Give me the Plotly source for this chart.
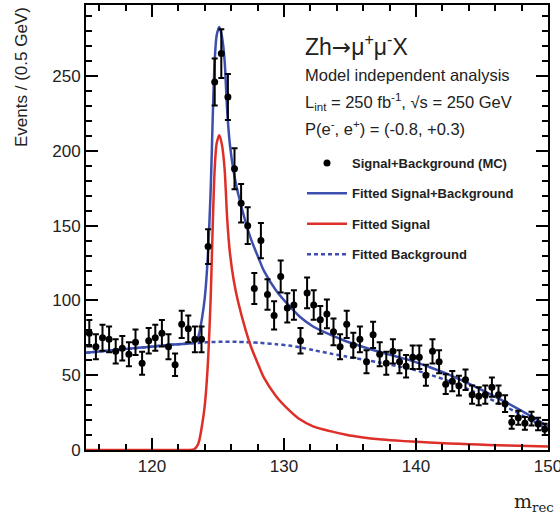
import numpy as np
import plotly.graph_objects as go

# --- data ---
bin_start = 115.25
bin_width = 0.5
counts = [78, 69, 75, 74, 66, 68, 64, 72, 58, 73, 75, 78, 69, 57, 84, 81, 74, 74, 136,
          246, 265, 236, 188, 165, 150,
          108, 140, 104, 90, 116, 95, 97, 73, 105, 97, 87, 91, 79, 69, 84, 70, 74, 59, 77,
          64, 58, 66, 59, 56, 62, 62, 50, 66, 59, 44, 46, 43, 47, 37, 36, 37, 42, 37, 31,
          18.5, 21.6, 17.8, 21, 17.4, 13.8]
bin_centers = bin_start + bin_width * np.arange(len(counts))
count_errors = np.sqrt(np.array(counts, dtype=float))

fit_x = [115, 117, 119, 121, 122, 122.8, 123.2, 123.5, 123.8, 124.0,
         124.2, 124.45, 124.6, 124.75, 124.9, 125.1, 125.3, 125.5, 125.7, 125.9,
         126.2, 126.5, 127.1, 127.5, 128.1, 128.5, 129.4, 130.4, 131.2, 132.2,
         133.5, 134.7, 136, 137.2, 138.5, 139.7, 141, 142.5, 144, 145.5,
         147, 148.5, 150]
signal_fit = [0, 0, 0, 0, 0, 0, 0.5, 4, 17, 30,
              53, 103, 150, 188, 205, 210.5, 204, 188, 154, 132,
              113, 100, 80, 69, 56, 48, 36, 26.5, 20.5, 15.8,
              12.6, 10.2, 8.4, 7.2, 6.3, 5.6, 5, 4.4, 3.9, 3.4,
              3, 2.6, 2.3]
background_fit = [65, 66.7, 68.3, 70, 70.7, 71.2, 71.4, 71.6, 71.8, 71.9,
                  72, 72.1, 72.15, 72.2, 72.25, 72.3, 72.3, 72.35, 72.35, 72.35,
                  72.35, 72.3, 72.1, 72, 71.7, 71.4, 70.7, 69.8, 68.6, 66.8,
                  64.5, 62.5, 60.5, 58.5, 56.2, 54, 50.5, 46, 40.5, 34.5,
                  28, 21, 13.5]
total_fit = np.array(signal_fit) + np.array(background_fit)

BLUE = "#3d4fae"
RED = "#dd2f27"

fig = go.Figure()
fig.add_trace(go.Scatter(x=fit_x, y=background_fit, mode="lines", name="<b>Fitted Background</b>",
                         line=dict(color=BLUE, width=2.5, dash="4px,3px", shape="spline", smoothing=0.8),
                         legendrank=4, legendgroup="d"))
fig.add_trace(go.Scatter(x=fit_x, y=signal_fit, mode="lines", name="<b>Fitted Signal</b>",
                         line=dict(color=RED, width=2.5, shape="spline", smoothing=0.8),
                         legendrank=3, legendgroup="c"))
fig.add_trace(go.Scatter(x=fit_x, y=total_fit, mode="lines", name="<b>Fitted Signal+Background</b>",
                         line=dict(color=BLUE, width=2.5, shape="spline", smoothing=0.8),
                         legendrank=2, legendgroup="b"))
fig.add_trace(go.Scatter(x=bin_centers, y=counts, mode="markers", name="<b>Signal+Background (MC)</b>",
                         marker=dict(color="black", size=7),
                         error_y=dict(type="data", array=count_errors, color="black", thickness=2, width=3),
                         legendrank=1, legendgroup="a"))

axis_font = dict(family="Liberation Sans, Arial, sans-serif", size=17, color="#222")
fig.update_xaxes(range=[115, 150], tickvals=[120, 130, 140, 150], ticks="inside", ticklen=12, tickwidth=2,
                 tickcolor="black", showline=True, linecolor="black", linewidth=2, mirror="allticks",
                 showgrid=False, zeroline=False, tickfont=axis_font, ticklabeloverflow="allow",
                 automargin=False,
                 minor=dict(dtick=2, tick0=0, ticks="inside", ticklen=6, tickwidth=2, tickcolor="black",
                            showgrid=False))
fig.update_yaxes(range=[0, 297.5], tickvals=[0, 50, 100, 150, 200, 250], ticks="inside", ticklen=12,
                 tickwidth=2, tickcolor="black", showline=True, linecolor="black", linewidth=2,
                 mirror="allticks", showgrid=False, zeroline=False, tickfont=axis_font,
                 automargin=False,
                 minor=dict(dtick=10, tick0=0, ticks="inside", ticklen=6, tickwidth=2, tickcolor="black",
                            showgrid=False))

txt = "Liberation Sans, Arial, sans-serif"
annos = [
    dict(text="Zh<span style='font-family:DejaVu Sans'>→</span>μ<sup>+</sup>μ<sup>-</sup>X",
         x=303, y=45, size=23),
    dict(text="Model independent analysis", x=303, y=75, size=16.5),
    dict(text="L<sub>int</sub> = 250 fb<sup>-1</sup>, √s = 250 GeV", x=303, y=102, size=16.5),
    dict(text="P(e<sup>-</sup>, e<sup>+</sup>) = (-0.8, +0.3)", x=303, y=128, size=16.5),
]
L, T, PW, PH = 86, 5, 462, 445
for a in annos:
    fig.add_annotation(text=a["text"], xref="paper", yref="paper",
                       x=(a["x"] - L) / PW, y=1 - (a["y"] - T) / PH,
                       xanchor="left", yanchor="middle", showarrow=False,
                       font=dict(family=txt, size=a["size"], color="#222"))

fig.add_annotation(text="Events / (0.5 GeV)", textangle=-90, xref="paper", yref="paper",
                   x=(21 - L) / PW, y=1, xanchor="center", yanchor="top", showarrow=False,
                   font=dict(family=txt, size=17, color="#222"))
fig.add_annotation(text="m<sub>rec</sub>", xref="paper", yref="paper",
                   x=(556 - L) / PW, y=-(503 - 450) / PH, xanchor="right", yanchor="middle",
                   showarrow=False, font=dict(family="DejaVu Serif, Liberation Serif, serif", size=19,
                                              color="#222"))

fig.update_layout(
    width=560, height=519,
    margin=dict(l=L, r=560 - L - PW, t=T, b=519 - T - PH, autoexpand=False),
    plot_bgcolor="white", paper_bgcolor="white",
    showlegend=True,
    legend=dict(x=(302 - L) / PW, y=1 - (148 - T) / PH, xanchor="left", yanchor="top",
                bgcolor="rgba(0,0,0,0)", tracegroupgap=10.5, itemwidth=40,
                font=dict(family=txt, size=13, color="#222")),
)

fig.write_html("out.html")
